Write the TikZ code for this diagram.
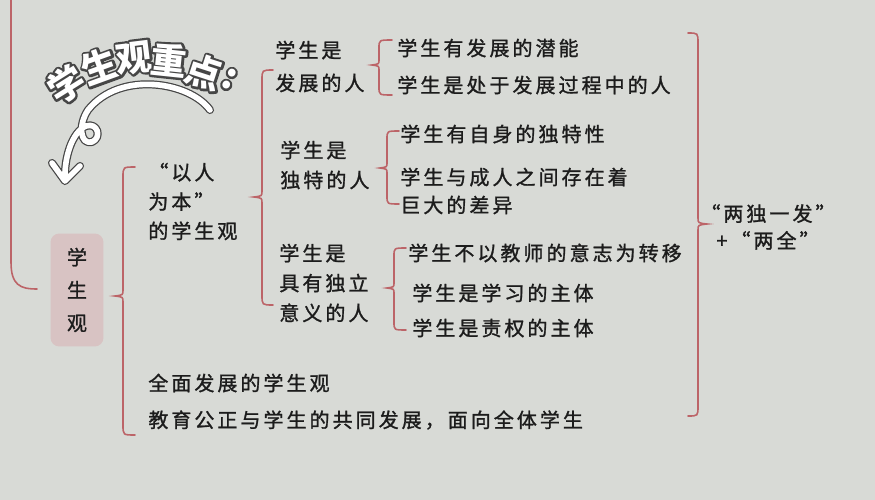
\documentclass[tikz,border=0pt]{standalone}
\usepackage{fontspec}
\newfontfamily\cjk[LetterSpace=15, FakeBold=1.2]{Noto Sans CJK SC}
\newfontfamily\cjkstick{Noto Sans CJK SC}
\newcommand\rimtext[1]{\special{pdf:literal direct 1 Tr 2.6 w 1 j}#1\special{pdf:literal direct 0 Tr}}
\definecolor{paper}{RGB}{216,218,214}
\definecolor{bracered}{RGB}{188,100,104}
\definecolor{boxpink}{RGB}{216,195,195}
\definecolor{ink}{RGB}{28,28,28}
\definecolor{rim}{RGB}{70,70,70}

\begin{document}
\begin{tikzpicture}[x=0.02cm, y=-0.02cm,
    brace/.style={draw=bracered, line width=0.9pt, line cap=round},
    txt/.style={font=\cjk\fontsize{11.4}{17}\selectfont, text=ink, inner sep=0pt, anchor=west},
    stack/.style={txt, align=left, font=\cjk\fontsize{11.4}{#1}\selectfont},
    stick/.style={font=\cjkstick\bfseries\fontsize{20.5}{20.5}\selectfont, inner sep=0pt}]
  \useasboundingbox (0,0) rectangle (875,500);
  \fill[paper] (0,0) rectangle (875,500);

  % outer line on the left
  \draw[brace] (11,0) -- (11,262) .. controls (11,285) and (20,289) .. (37,289);

  % core box
  \node[fill=boxpink, rounded corners=5pt, minimum width=1.06cm, minimum height=2.26cm,
        align=center, font=\cjk\fontsize{11.4}{18.7}\selectfont, text=ink] (core) at (77,290) {学\\生\\观};

  % braces
  \draw[brace] (135,167) .. controls (123,167) .. (123,177) -- (123,290) .. controls (123,295) .. (115,296)
               .. controls (123,297) .. (123,302) -- (123,425) .. controls (123,435) .. (135,435);
  \draw[brace] (273,70) .. controls (262,70) .. (262,80) -- (262,191) .. controls (262,196) .. (254,197)
               .. controls (262,198) .. (262,203) -- (262,295) .. controls (262,305) .. (273,305);
  \draw[brace] (392,40) .. controls (379,40) .. (379,48) -- (379,60) .. controls (379,64) .. (372,65)
               .. controls (379,66) .. (379,70) -- (379,87) .. controls (379,95) .. (392,95);
  \draw[brace] (399,131) .. controls (387,131) .. (387,139) -- (387,163) .. controls (387,167) .. (380,168)
               .. controls (387,169) .. (387,173) -- (387,196) .. controls (387,204) .. (399,204);
  \draw[brace] (406,248) .. controls (394,248) .. (394,256) -- (394,283) .. controls (394,287) .. (387,288)
               .. controls (394,289) .. (394,293) -- (394,322) .. controls (394,330) .. (406,330);
  \draw[brace] (688,33) .. controls (698,33) .. (698,43) -- (698,218) .. controls (698,223) .. (707,224)
               .. controls (698,225) .. (698,230) -- (698,406) .. controls (698,416) .. (688,416);

  % texts
  \node[stack=16.7] (view) at (148,201.5) {“以人\\为本”\\的学生观};
  \node[stack=18.7] (devp) at (275,66.5) {学生是\\发展的人};
  \node[stack=17] (uniq) at (280,165) {学生是\\独特的人};
  \node[stack=17] (indep) at (279,283) {学生是\\具有独立\\意义的人};
  \node[txt] (pot) at (397,48) {学生有发展的潜能};
  \node[txt] (proc) at (397,85) {学生是处于发展过程中的人};
  \node[txt] (self) at (400,134) {学生有自身的独特性};
  \node[stack=15.9] (gap) at (400,191) {学生与成人之间存在着\\巨大的差异};
  \node[txt] (will) at (408,253) {学生不以教师的意志为转移};
  \node[txt] (learn) at (412,293) {学生是学习的主体};
  \node[txt] (duty) at (412,328) {学生是责权的主体};
  \node[txt] (whole) at (148,383) {全面发展的学生观};
  \node[txt] (fair) at (148,420) {教育公正与学生的共同发展，面向全体学生};
  \node[stack=15.3, align=center, anchor=center] (sum) at (768,227) {“两独一发”\\+“两全”};

  % sticker arrow
  \draw[rim, line width=4.6pt, line cap=round, line join=round]
    (210,110) .. controls (190,82) and (120,70) .. (88,110) .. controls (78,125) and (80,145) .. (92,142)
    .. controls (102,138) and (98,122) .. (86,126) .. controls (72,132) and (64,158) .. (65,180);
  \draw[rim, line width=4.6pt, line cap=round, line join=round] (52,163) -- (65,181) -- (80,166);
  \draw[white, line width=3.2pt, line cap=round, line join=round]
    (210,110) .. controls (190,82) and (120,70) .. (88,110) .. controls (78,125) and (80,145) .. (92,142)
    .. controls (102,138) and (98,122) .. (86,126) .. controls (72,132) and (64,158) .. (65,180);
  \draw[white, line width=3.2pt, line cap=round, line join=round] (52,163) -- (65,181) -- (80,166);

  % sticker title
  \foreach \ch/\px/\py/\ang [count=\i] in {学/66/84/32, 生/100/66/20, 观/134/58/7, 重/169/60/-6, 点/204/72/-18, :/229/79/-25}{
    \node[stick, text=rim, rotate=\ang] (rim\i) at (\px,\py) {\rimtext{\ch}};
    \node[stick, text=white, rotate=\ang] (title\i) at (\px,\py) {\ch};
  }
\end{tikzpicture}
\end{document}
